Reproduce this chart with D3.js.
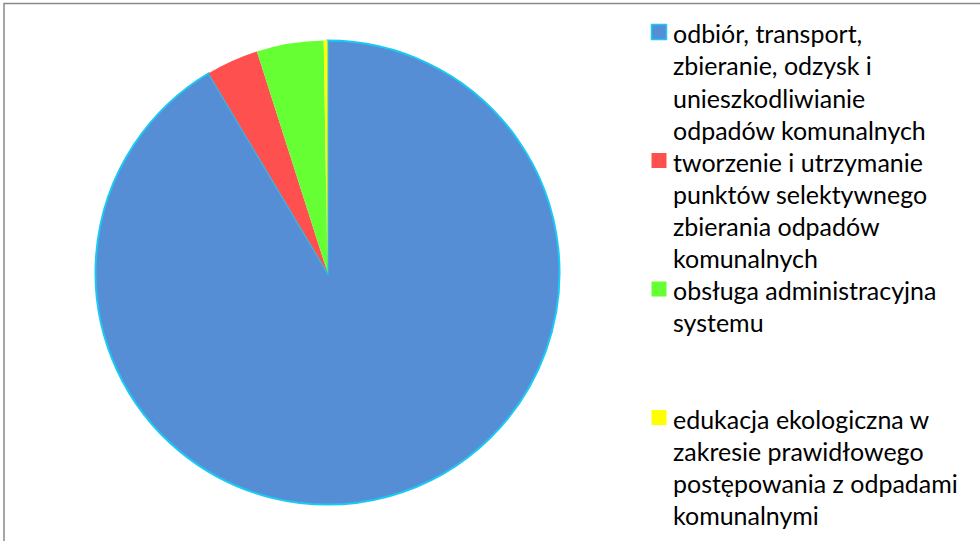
<!DOCTYPE html>
<html><head><meta charset="utf-8">
<script src="https://cdn.jsdelivr.net/npm/d3@7"></script>
<style>html,body{margin:0;padding:0;background:#fff;}svg{display:block;}</style>
</head><body>
<svg id="chart" width="980" height="541"></svg>
<script>
const categories = [
  "odbiór, transport, zbieranie, odzysk i unieszkodliwianie odpadów komunalnych",
  "tworzenie i utrzymanie punktów selektywnego zbierania odpadów komunalnych",
  "obsługa administracyjna systemu",
  "edukacja ekologiczna w zakresie prawidłowego postępowania z odpadami komunalnymi"
];
const legendLines = [
  ["odbiór, transport,", "zbieranie, odzysk i", "unieszkodliwianie", "odpadów komunalnych"],
  ["tworzenie i utrzymanie", "punktów selektywnego", "zbierania odpadów", "komunalnych"],
  ["obsługa administracyjna", "systemu"],
  ["edukacja ekologiczna w", "zakresie prawidłowego", "postępowania z odpadami", "komunalnymi"]
];
const values = [91.44, 3.64, 4.66, 0.26];
const colors = ["#558ED5", "#FF5050", "#66FF33", "#FFFF00"];

const svg = d3.select("#chart");
svg.append("rect").attr("x", 4).attr("y", 3.5).attr("width", 1000).attr("height", 600)
  .attr("fill", "none").attr("stroke", "#898989").attr("stroke-width", 1.5);

const cx = 327.5, cy = 272.5, r = 232;
const pie = d3.pie().sort(null).value(d => d)(values);
const arc = d3.arc().innerRadius(0).outerRadius(r);
const g = svg.append("g").attr("transform", `translate(${cx},${cy})`);
g.selectAll("path").data(pie).join("path")
  .attr("d", arc)
  .attr("fill", (d, i) => colors[i])
  .attr("stroke", (d, i) => i === 0 ? "#1CC8F4" : "none")
  .attr("stroke-width", 2);

// legend
const fontFamily = "Lato, 'Open Sans', sans-serif";
const probe = svg.append("text").attr("font-family", fontFamily).attr("font-size", 20).text("odpadów komunalnych");
const w20 = probe.node().getComputedTextLength();
probe.remove();
const fs = 20 * 253 / w20;

const lineH = 32.3, entryH = 128.5, firstCenter = 33;
const leg = svg.append("g");
legendLines.forEach((lines, i) => {
  const c0 = firstCenter + i * entryH;
  leg.append("rect").attr("x", 651.5).attr("y", c0 - 1 - 7.5).attr("width", 15).attr("height", 15)
    .attr("fill", colors[i]).attr("stroke", i === 0 ? "#1CC8F4" : "none").attr("stroke-width", 1.5);
  lines.forEach((t, j) => {
    leg.append("text").attr("x", 673).attr("y", c0 + j * lineH)
      .attr("dominant-baseline", "central")
      .attr("font-family", fontFamily).attr("font-size", fs).attr("fill", "#000")
      .text(t);
  });
});
</script>
</body></html>
